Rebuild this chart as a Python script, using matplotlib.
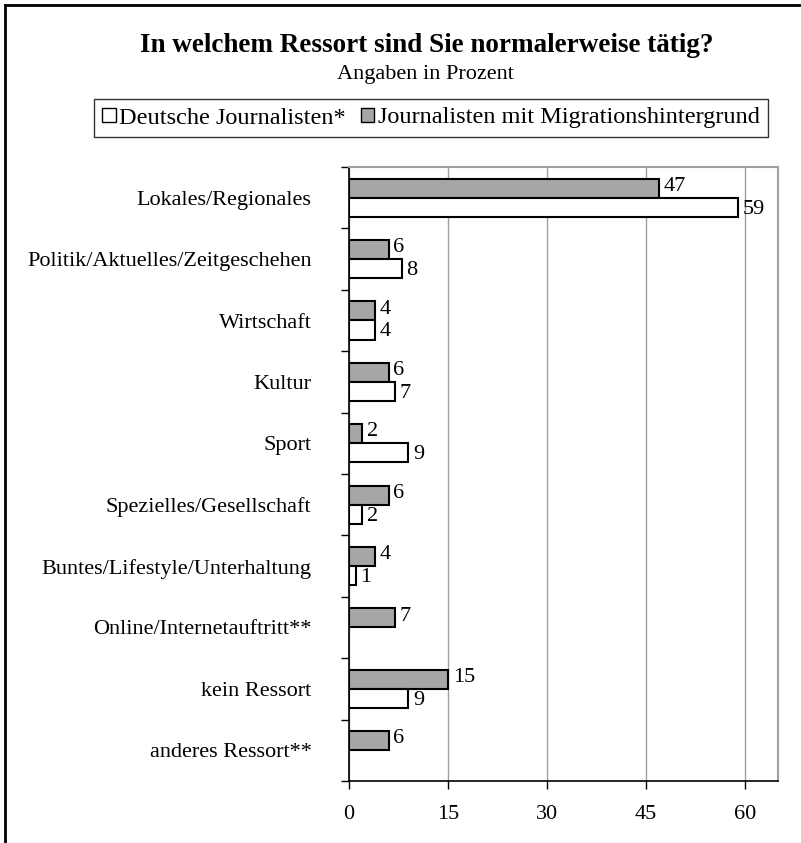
import numpy as np
import matplotlib.pyplot as plt
from matplotlib.lines import Line2D
from matplotlib.patches import Patch

# Daten
categories = ['Lokales/Regionales', 'Politik/Aktuelles/Zeitgeschehen', 'Wirtschaft', 'Kultur',
              'Sport', 'Spezielles/Gesellschaft', 'Buntes/Lifestyle/Unterhaltung',
              'Online/Internetauftritt**', 'kein Ressort', 'anderes Ressort**']
deutsche = [59, 8, 4, 7, 9, 2, 1, None, 9, None]
migration = [47, 6, 4, 6, 2, 6, 4, 7, 15, 6]
x_ticks = [0, 15, 30, 45, 60]

plt.rcParams['font.family'] = ['Liberation Serif', 'DejaVu Serif']

fig = plt.figure(figsize=(8.01, 8.43), dpi=100)
ax = fig.add_axes([349 / 801, 1 - 781 / 843, 429 / 801, 614 / 843])

n = len(categories)
y = np.arange(n)
h = 0.31
grey = '#a6a6a6'
fs = 16

# Balken
for i in range(n):
    ax.barh(y[i] - h / 2, migration[i], height=h, color=grey, edgecolor='black', linewidth=1.5, zorder=3)
    ax.text(migration[i] + 0.7, y[i] - h / 2 - 0.03, str(migration[i]), va='center', ha='left', fontsize=fs)
    if deutsche[i] is not None:
        ax.barh(y[i] + h / 2, deutsche[i], height=h, color='white', edgecolor='black', linewidth=1.5, zorder=3)
        ax.text(deutsche[i] + 0.7, y[i] + h / 2 + 0.03, str(deutsche[i]), va='center', ha='left', fontsize=fs)

ax.set_ylim(n - 0.5, -0.5)
ax.set_xlim(0, 65)
ax.set_xticks(x_ticks)
ax.set_xticklabels([str(t) for t in x_ticks], fontsize=fs)
ax.set_yticks(np.arange(n + 1) - 0.5)
ax.set_yticklabels([])
ax.set_yticks(y, minor=True)
ax.set_yticklabels(categories, minor=True, fontsize=fs)
ax.tick_params(axis='y', which='minor', length=0, pad=27)
ax.tick_params(axis='y', which='major', length=6, direction='out', width=1)
ax.tick_params(axis='x', length=6, direction='out', width=1, pad=11)

ax.grid(axis='x', color='#a0a0a0', linewidth=1, zorder=0)
for s in ['top', 'right']:
    ax.spines[s].set_color('#a0a0a0')
    ax.spines[s].set_linewidth(1.5)
for s in ['left', 'bottom']:
    ax.spines[s].set_color('black')
    ax.spines[s].set_linewidth(1.2)
ax.set_axisbelow(True)

# Titel
fig.text(427 / 801, 1 - 45 / 843, 'In welchem Ressort sind Sie normalerweise tätig?',
         ha='center', va='center', fontsize=19.5, fontweight='bold')
fig.text(425 / 801, 1 - 74 / 843, 'Angaben in Prozent', ha='center', va='center', fontsize=16)

# Legende
handles = [Patch(facecolor='white', edgecolor='black', linewidth=1),
           Patch(facecolor=grey, edgecolor='black', linewidth=1)]
leg = fig.legend(handles, ['Deutsche Journalisten*', 'Journalisten mit Migrationshintergrund'],
                 ncol=2, loc='center', bbox_to_anchor=(431 / 801, 1 - 118 / 843),
                 fontsize=17.5, frameon=True, fancybox=False, edgecolor='black',
                 handlelength=0.55, handleheight=0.55, handletextpad=0.15, columnspacing=0.6,
                 borderpad=0.35)
leg.get_frame().set_linewidth(1)

# Rahmen links und oben
fig.add_artist(Line2D([5 / 801, 5 / 801], [0, 1 - 5 / 843], transform=fig.transFigure, color='black', linewidth=2))
fig.add_artist(Line2D([5 / 801, 1], [1 - 5 / 843, 1 - 5 / 843], transform=fig.transFigure, color='black', linewidth=2))

fig.savefig('out.png', dpi=100)
